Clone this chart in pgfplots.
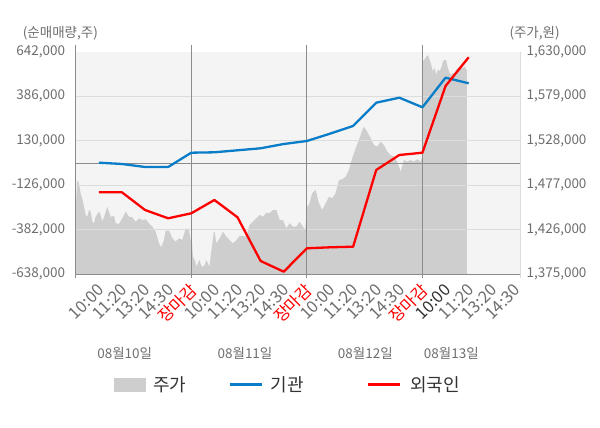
\documentclass[border=0pt]{standalone}
\usepackage{pgfplots}
\pgfplotsset{compat=1.18}
\usepackage{fontspec}
\setmainfont{Noto Sans CJK KR}
\definecolor{tickgray}{HTML}{6E6E6E}
\definecolor{bggray}{HTML}{F4F4F4}
\definecolor{areagray}{HTML}{CECECE}
\definecolor{gridgray}{HTML}{DCDCDC}
\definecolor{linegray}{HTML}{8C8C8C}
\definecolor{bluel}{HTML}{0A7DC8}
\definecolor{redl}{HTML}{FF0000}
\definecolor{legtext}{HTML}{333333}

\pgfplotstableread{
k P
0.00 1448400
0.04 1470000
0.07 1482800
0.14 1479000
0.21 1467900
0.29 1461000
0.36 1452200
0.43 1442700
0.50 1440700
0.58 1448400
0.65 1446500
0.72 1435000
0.79 1433200
0.86 1440700
1.01 1446500
1.08 1442700
1.15 1435000
1.22 1440000
1.37 1452200
1.41 1448400
1.51 1440700
1.66 1441500
1.73 1433200
1.87 1432400
2.02 1438900
2.16 1446500
2.31 1440700
2.45 1440000
2.59 1435000
2.74 1438900
2.88 1436900
3.03 1437700
3.17 1433200
3.31 1429300
3.46 1423500
3.60 1410200
3.70 1405600
3.82 1414000
3.89 1424700
4.04 1424700
4.18 1416000
4.32 1412100
4.47 1416000
4.61 1414000
4.76 1427400
4.90 1425500
4.97 1414000
5.03 1412100
5.07 1394800
5.15 1391100
5.22 1383400
5.29 1387300
5.36 1391100
5.43 1384200
5.51 1383400
5.58 1385300
5.65 1391100
5.79 1383400
5.87 1402500
5.98 1423500
6.01 1423500
6.08 1410200
6.23 1416000
6.37 1423500
6.52 1417800
6.66 1414000
6.80 1410200
6.95 1414000
7.09 1418600
7.24 1418600
7.38 1417800
7.52 1431200
7.67 1435000
7.81 1438900
7.96 1442700
8.10 1440700
8.25 1445300
8.39 1444600
8.53 1448400
8.68 1448400
8.82 1436900
8.97 1436900
9.11 1427400
9.25 1433200
9.40 1429300
9.54 1429300
9.69 1435000
9.83 1429300
9.93 1425500
10.00 1452200
10.09 1454200
10.23 1467600
10.38 1471400
10.52 1456100
10.67 1448400
10.81 1456100
10.96 1463700
11.10 1461800
11.24 1467600
11.39 1482800
11.53 1483600
11.68 1486600
11.82 1494300
11.96 1507700
12.11 1519200
12.25 1528700
12.40 1540200
12.47 1544000
12.61 1538200
12.76 1530700
12.90 1523000
13.05 1521000
13.19 1526800
13.33 1523000
13.48 1515300
13.62 1511500
13.77 1509600
13.91 1503800
14.06 1492300
14.20 1505800
14.34 1503800
14.49 1505800
14.63 1503800
14.78 1506600
14.92 1503800
14.99 1509600
15.02 1619000
15.09 1620800
15.17 1624700
15.24 1625900
15.31 1620800
15.38 1615100
15.45 1607500
15.53 1611300
15.60 1603600
15.67 1609400
15.74 1607500
15.81 1611300
15.89 1619000
15.96 1620800
16.03 1619700
16.10 1611300
16.17 1605600
16.25 1603600
16.32 1605600
16.39 1605600
16.46 1609400
16.54 1611300
16.61 1613300
16.68 1611300
16.75 1611300
16.82 1613300
16.90 1609400
16.92 1609400
}\pricetable

\pgfplotstableread{
k V
1 3000
2 -4600
3 -21900
4 -21900
5 60400
6 62700
7 74300
8 85800
9 110500
10 127800
11 169800
12 214200
13 348300
14 377100
15 321900
16 492300
17 460100
}\insttable

\pgfplotstableread{
k V
1 -167600
2 -167600
3 -269500
4 -317300
5 -288500
6 -211900
7 -311500
8 -563100
9 -624800
10 -490000
11 -484300
12 -480800
13 -39200
14 47200
15 60400
16 444500
17 609800
}\fortable

\begin{document}
\begin{tikzpicture}[x=1pt,y=1pt]
\fill[white] (0,0) rectangle (600,428);
\useasboundingbox (0,0) rectangle (600,428);

% price area (right axis)
\begin{axis}[
  at={(75.7pt,154pt)}, anchor=south west,
  scale only axis, width=444.3pt, height=222.3pt,
  xmin=0, xmax=19.22, ymin=1375000, ymax=1630000,
  scaled y ticks=false, scaled x ticks=false,
  axis background/.style={fill=bggray},
  axis x line=none, axis y line*=right,
  y axis line style={draw=none},
  xtick=\empty,
  ytick={1375000,1426000,1477000,1528000,1579000,1630000},
  yticklabels={1{,}375{,}000,1{,}426{,}000,1{,}477{,}000,1{,}528{,}000,1{,}579{,}000,1{,}630{,}000},
  major tick length=0pt,
  yticklabel style={font=\fontsize{13.5}{15}\selectfont, text=tickgray, anchor=west, xshift=3pt},
]
\addplot[fill=areagray, draw=none] table[x=k, y=P] {\pricetable} \closedcycle;
\end{axis}

% net buying lines (left axis)
\begin{axis}[
  at={(75.7pt,154pt)}, anchor=south west,
  scale only axis, width=444.3pt, height=222.3pt,
  xmin=0, xmax=19.22, ymin=-638000, ymax=642000,
  scaled y ticks=false, scaled x ticks=false,
  axis x line*=bottom, axis y line*=left,
  axis line style={draw=none},
  clip=false,
  ytick={-638000,-382000,-126000,130000,386000,642000},
  yticklabels={-638{,}000,-382{,}000,-126{,}000,130{,}000,386{,}000,642{,}000},
  xtick={1,...,19},
  xticklabels={10:00,11:20,13:20,14:30,{\textcolor{redl}{장마감}},10:00,11:20,13:20,14:30,{\textcolor{redl}{장마감}},10:00,11:20,13:20,14:30,{\textcolor{redl}{장마감}},{\textcolor{legtext}{10:00}},11:20,13:20,14:30},
  major tick length=0pt,
  yticklabel style={font=\fontsize{13.5}{15}\selectfont, text=tickgray, anchor=east, xshift=-7pt},
  xticklabel style={font=\fontsize{16.5}{17}\selectfont, text=tickgray, xshift=3pt, yshift=-12.5pt, rotate=45, anchor=east, inner sep=1pt},
]
\draw[gridgray, line width=0.9pt] (axis cs:0,-382000) -- (axis cs:19.22,-382000);
\draw[gridgray, line width=0.9pt] (axis cs:0,-126000) -- (axis cs:19.22,-126000);
\draw[gridgray, line width=0.9pt] (axis cs:0,130000) -- (axis cs:19.22,130000);
\draw[gridgray, line width=0.9pt] (axis cs:0,386000) -- (axis cs:19.22,386000);
\draw[linegray, line width=0.9pt] (axis cs:0,0) -- (axis cs:19.22,0);
\draw[linegray, line width=0.9pt] (axis cs:0,-638000) -- (axis cs:19.22,-638000);
\draw[linegray, line width=0.9pt] (axis cs:0,682000) -- (axis cs:0,-661000);
\draw[linegray, line width=0.9pt] (axis cs:5,682000) -- (axis cs:5,-661000);
\draw[linegray, line width=0.9pt] (axis cs:10,682000) -- (axis cs:10,-661000);
\draw[linegray, line width=0.9pt] (axis cs:15,682000) -- (axis cs:15,-661000);
\draw[gridgray, line width=0.9pt] (axis cs:19.22,642000) -- (axis cs:19.22,-661000);
\addplot[bluel, line width=2.3pt, line join=round] table[x=k, y=V] {\insttable};
\addplot[redl, line width=2.3pt, line join=round] table[x=k, y=V] {\fortable};
\end{axis}

% axis titles
\node[anchor=west, text=tickgray, font=\fontsize{13.5}{15}\selectfont, inner sep=0pt] at (22.7,394.7) {(순매매량,주)};
\node[anchor=west, text=tickgray, font=\fontsize{13.5}{15}\selectfont, inner sep=0pt] at (509.3,394.7) {(주가,원)};

% date labels
\node[text=tickgray, font=\fontsize{13.5}{15}\selectfont] at (124.7,75) {08월10일};
\node[text=tickgray, font=\fontsize{13.5}{15}\selectfont] at (245,75) {08월11일};
\node[text=tickgray, font=\fontsize{13.5}{15}\selectfont] at (365.3,75) {08월12일};
\node[text=tickgray, font=\fontsize{13.5}{15}\selectfont] at (451.3,75) {08월13일};

% legend
\fill[areagray] (114.3,36) rectangle (146,50);
\node[anchor=west, text=legtext, font=\fontsize{18}{20}\selectfont, inner sep=0pt] at (153,43) {주가};
\draw[bluel, line width=3pt] (230,43) -- (261.7,43);
\node[anchor=west, text=legtext, font=\fontsize{18}{20}\selectfont, inner sep=0pt] at (270.7,43) {기관};
\draw[redl, line width=3pt] (368,43) -- (400,43);
\node[anchor=west, text=legtext, font=\fontsize{18}{20}\selectfont, inner sep=0pt] at (410,43) {외국인};
\end{tikzpicture}
\end{document}
